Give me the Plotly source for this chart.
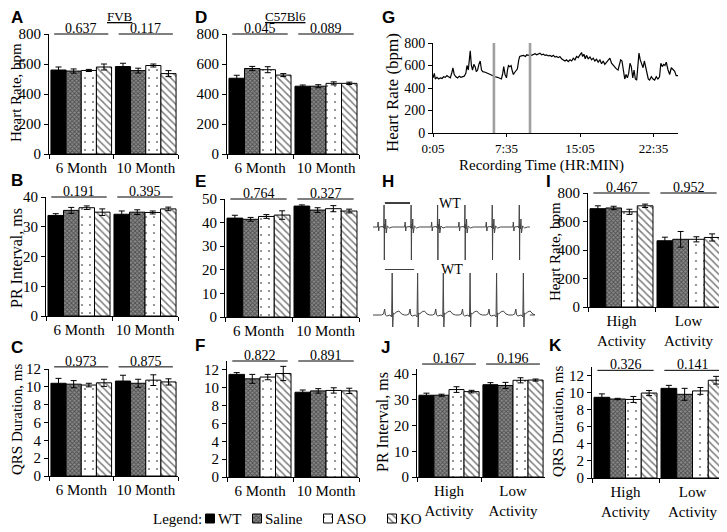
import plotly.graph_objects as go

# The page body has an 8px margin, so the figure is sized to fill the rest of the window
OFF = 8
W, H = 727 - OFF, 532 - OFF
SERIF = "Liberation Serif"
SANS = "Liberation Sans"

groups = ["WT", "Saline", "ASO", "KO"]
months = ["6 Month", "10 Month"]
activity = ["High<br>Activity", "Low<br>Activity"]

# rows = WT, Saline, ASO, KO ; columns = the two categories
A_mean = [[560, 583], [553, 556], [557, 590], [580, 536]]
A_err = [[20, 22], [14, 16], [7, 10], [20, 20]]
A_p = ["0.637", "0.117"]

B_mean = [[33.8, 34.2], [35.5, 34.9], [36.4, 34.8], [34.9, 36.0]]
B_err = [[0.6, 1.1], [1.0, 0.8], [0.6, 0.5], [1.1, 0.6]]
B_p = ["0.191", "0.395"]

C_mean = [[10.4, 10.65], [10.3, 10.4], [10.2, 10.75], [10.45, 10.55]]
C_err = [[0.55, 0.65], [0.4, 0.45], [0.2, 0.6], [0.4, 0.35]]
C_p = ["0.973", "0.875"]

D_mean = [[505, 452], [570, 452], [562, 471], [526, 471]]
D_err = [[20, 8], [14, 10], [20, 10], [10, 8]]
D_p = ["0.045", "0.089"]

E_mean = [[41.9, 47.0], [41.4, 45.3], [42.6, 45.9], [43.2, 44.9]]
E_err = [[1.2, 0.5], [0.8, 1.0], [0.8, 1.3], [1.8, 0.8]]
E_p = ["0.764", "0.327"]

F_mean = [[11.5, 9.5], [11.0, 9.65], [11.2, 9.7], [11.6, 9.65]]
F_err = [[0.2, 0.25], [0.5, 0.25], [0.3, 0.3], [0.8, 0.3]]
F_p = ["0.822", "0.891"]

I_mean = [[690, 465], [695, 475], [668, 475], [710, 488]]
I_err = [[20, 25], [12, 55], [18, 18], [12, 25]]
I_p = ["0.467", "0.952"]

J_mean = [[31.8, 35.9], [31.8, 35.6], [34.0, 37.6], [33.2, 37.7]]
J_err = [[0.8, 0.8], [0.4, 1.2], [1.1, 1.0], [0.5, 0.4]]
J_p = ["0.167", "0.196"]

K_mean = [[9.45, 10.5], [9.25, 9.8], [9.2, 10.2], [9.95, 11.45]]
K_err = [[0.4, 0.35], [0.08, 0.7], [0.35, 0.4], [0.3, 0.45]]
K_p = ["0.326", "0.141"]

# Panel G: 24h heart-rate recording (minutes, bpm)
G_time = [5, 13, 19, 29, 40, 50, 60, 70, 80, 90,
          100, 111, 121, 127, 135, 145, 156, 166, 176, 186,
          196, 206, 213, 221, 227, 233, 240, 247, 255, 263,
          270, 278, 286, 294, 302, 310, 325, 339, 355, 371,
          386, 400, 412, 424, 432, 438, 446, 455, 461, 467,
          475, 483, 489, 497, 506, 514, 522, 530, 536, 546,
          559, 571, 579, 589, 599, 609, 619, 630, 640, 650,
          660, 670, 681, 691, 701, 711, 721, 731, 742, 752,
          762, 772, 782, 792, 803, 813, 823, 833, 844, 854,
          864, 874, 884, 894, 905, 915, 921, 929, 937, 945,
          955, 966, 976, 986, 996, 1006, 1016, 1027, 1037, 1047,
          1057, 1067, 1077, 1088, 1098, 1108, 1118, 1128, 1138, 1146,
          1154, 1162, 1171, 1179, 1187, 1195, 1203, 1211, 1219, 1228,
          1236, 1244, 1252, 1260, 1266, 1274, 1282, 1291, 1299, 1307,
          1315, 1323, 1331, 1342, 1352, 1362, 1372, 1382, 1392, 1400,
          1409, 1417, 1425, 1433, 1444, 1454, 1464, 1474, 1484, 1494,
          1505]
G_hr = [490, 530, 480, 495, 480, 490, 485, 500, 495, 510,
        500, 490, 540, 578, 520, 500, 490, 505, 495, 500,
        505, 530, 600, 560, 640, 730, 600, 560, 610, 590,
        545, 560, 610, 640, 560, 545, 540, 530, 520, 510,
        500, 495, 490, 480, 530, 590, 520, 490, 560, 600,
        590, 600, 560, 520, 540, 560, 570, 650, 680, 685,
        690, 680, 695, 690, 700, 690, 700, 705, 695, 700,
        710, 695, 700, 690, 695, 685, 690, 680, 690, 675,
        680, 670, 680, 660, 650, 640, 650, 635, 650, 640,
        665, 650, 680, 670, 695, 715, 680, 700, 660, 690,
        660, 675, 650, 665, 640, 655, 630, 650, 615, 640,
        610, 630, 645, 665, 620, 600, 580, 570, 560, 610,
        650, 640, 560, 480, 520, 490, 530, 620, 590, 490,
        560, 480, 470, 600, 710, 650, 620, 580, 640, 580,
        520, 480, 470, 500, 480, 470, 500, 480, 500, 620,
        590, 610, 600, 630, 560, 520, 580, 560, 550, 510,
        510]
G_marks = [378, 599]
G_tickvals = [5, 455, 905, 1355]
G_ticktext = ["0:05", "7:35", "15:05", "22:35"]

# Panel H: ECG traces (ms), beat times and one-beat waveform templates
H_span = [11, 591]
H_top_beats = [52, 152, 250, 351, 452, 552]
H_top_dt = [-24, -22, -20, -18, -4, -2, -1, 0, 1, 2, 4, 6, 8, 12, 20, 30]
H_top_amp = [0, 5, -4, 0, 0.5, -1, 2, 22, -33, 3, -2, 8, -6, 1, -1, 0]
H_bot_beats = [82, 176, 271, 370, 468, 567]
H_bot_dt = [-40, -32, -28, -25, -20, -8, -2, 0, 2, 4, 8, 15, 25, 35, 45]
H_bot_amp = [0, 1, 6, 0, -1, 0, -2, 42, -12, 2, 1, 3, 4, 1, 0]

styles = {
    "WT": dict(color="black"),
    "Saline": dict(color="#7a7a7a",
                   pattern=dict(shape="x", fgcolor="#111111", bgcolor="#8a8a8a", size=3, solidity=0.5)),
    "ASO": dict(color="white",
                pattern=dict(shape=".", fgcolor="black", bgcolor="white", size=8, solidity=0.06)),
    "KO": dict(color="white",
               pattern=dict(shape="\\", fgcolor="black", bgcolor="white", size=5, solidity=0.3)),
}


def pxx(p):
    return (p - OFF) / W


def pxy(p):
    return 1 - (p - OFF) / H


def marker_for(g):
    st = styles[g]
    m = dict(color=st["color"], line=dict(color="black", width=1))
    if "pattern" in st:
        m["pattern"] = st["pattern"]
    return m


fig = go.Figure()
shapes = []
annotations = []
layout_axes = {}

bar_panels = [
    # n, xdom px, ydom px (top, bottom), yrange, dtick, cats, mean, err, p, pline
    (1, (49, 178), (34, 154), [0, 800], 200, months, A_mean, A_err, A_p, 1.0),
    (2, (46, 178), (197, 316), [0, 40], 10, months, B_mean, B_err, B_p, 1.0),
    (3, (49, 178), (369, 476), [0, 12], 2, months, C_mean, C_err, C_p, 1.02),
    (4, (227, 359), (34, 154), [0, 800], 200, months, D_mean, D_err, D_p, 1.0),
    (5, (225, 359), (199, 317), [0, 50], 10, months, E_mean, E_err, E_p, 1.0),
    (6, (227, 359), (361, 477), [0, 13], 2, months, F_mean, F_err, F_p, 1.0),
    (8, (588, 722), (193, 307), [0, 800], 200, activity, I_mean, I_err, I_p, 1.0),
    (9, (417, 545), (369, 477), [0, 42], 10, activity, J_mean, J_err, J_p, 1.046),
    (10, (592, 726), (367, 478), [0, 13], 2, activity, K_mean, K_err, K_p, 0.97),
]


def axname(letter, n):
    return letter if n == 1 else f"{letter}{n}"


for n, xd, yd, yr, dt, cats, mean, err, pv, pline in bar_panels:
    xa, ya = axname("x", n), axname("y", n)
    for gi, g in enumerate(groups):
        fig.add_trace(go.Bar(
            x=cats, y=mean[gi], name=g, showlegend=False,
            xaxis=xa, yaxis=ya, marker=marker_for(g),
            error_y=dict(type="data", array=err[gi], color="black", thickness=1, width=3),
        ))
    layout_axes["xaxis" if n == 1 else f"xaxis{n}"] = dict(
        domain=[pxx(xd[0]), pxx(xd[1])], anchor=ya, type="category",
        range=[-0.5, 1.5], tickson="boundaries", ticks="outside", ticklen=4,
        tickcolor="black", showline=True, linecolor="black", linewidth=1, tickangle=0,
        automargin=False, showgrid=False, zeroline=False,
        tickfont=dict(family=SERIF, size=15, color="black"))
    layout_axes["yaxis" if n == 1 else f"yaxis{n}"] = dict(
        domain=[pxy(yd[1]), pxy(yd[0])], anchor=xa, range=yr, dtick=dt,
        ticks="outside", ticklen=4, tickcolor="black", showline=True, linecolor="black",
        linewidth=1, showgrid=False, zeroline=False, automargin=False,
        tickfont=dict(family=SERIF, size=15, color="black"))
    for j in range(2):
        shapes.append(dict(type="line", xref=xa, yref=f"{ya} domain", x0=j - 0.42, x1=j + 0.42,
                           y0=pline, y1=pline, line=dict(color="black", width=1)))
        annotations.append(dict(text=pv[j], xref=xa, yref=f"{ya} domain", x=j, y=pline,
                                xanchor="center", yanchor="bottom", showarrow=False, yshift=-4,
                                font=dict(family=SERIF, size=14, color="black")))

# Panel G
fig.add_trace(go.Scatter(x=G_time, y=G_hr, mode="lines", xaxis="x7", yaxis="y7",
                         line=dict(color="black", width=1.2), showlegend=False))
layout_axes["xaxis7"] = dict(domain=[pxx(433), pxx(678)], anchor="y7", range=[5, 1505],
                             tickvals=G_tickvals, ticktext=G_ticktext, ticks="outside", ticklen=3,
                             tickcolor="black", showline=True, linecolor="black", showgrid=False,
                             zeroline=False, automargin=False, tickangle=0,
                             tickfont=dict(family=SERIF, size=13, color="black"))
layout_axes["yaxis7"] = dict(domain=[pxy(133), pxy(43)], anchor="x7", range=[0, 800], dtick=200,
                             ticks="outside", ticklen=4, tickcolor="black", showline=True,
                             linecolor="black", showgrid=False, zeroline=False, automargin=False,
                             tickfont=dict(family=SERIF, size=14, color="black"))
for m in G_marks:
    shapes.append(dict(type="rect", xref="x7", yref="y7", x0=m - 8, x1=m + 8, y0=0, y1=815,
                       fillcolor="#a0a0a0", line=dict(width=0)))


# Panel H
def ecg(beats, dts, amps, span):
    xs, ys = [span[0]], [0]
    for b in beats:
        for d, a in zip(dts, amps):
            xs.append(b + d)
            ys.append(a)
    xs.append(span[1])
    ys.append(0)
    return xs, ys


tx, ty = ecg(H_top_beats, H_top_dt, H_top_amp, H_span)
bx, by = ecg(H_bot_beats, H_bot_dt, H_bot_amp, H_span)
fig.add_trace(go.Scatter(x=tx, y=ty, mode="lines", xaxis="x11", yaxis="y11",
                         line=dict(color="#444444", width=1), showlegend=False))
fig.add_trace(go.Scatter(x=bx, y=by, mode="lines", xaxis="x12", yaxis="y12",
                         line=dict(color="#444444", width=1), showlegend=False))
for n, yd, yr in [(11, (197, 262), [-35, 30]), (12, (269, 329), [-14, 46])]:
    layout_axes[f"xaxis{n}"] = dict(domain=[pxx(370), pxx(535)], anchor=f"y{n}",
                                    range=[0, 610], visible=False, automargin=False)
    layout_axes[f"yaxis{n}"] = dict(domain=[pxy(yd[1]), pxy(yd[0])], anchor=f"x{n}",
                                    range=yr, visible=False, automargin=False)
shapes.append(dict(type="line", xref="x11", yref="y11", x0=55, x1=148, y0=24, y1=24,
                   line=dict(color="black", width=1.5)))
shapes.append(dict(type="line", xref="x12", yref="y12", x0=55, x1=163, y0=46, y1=46,
                   line=dict(color="black", width=1.5)))
annotations.append(dict(text="WT", xref="x11", yref="y11", x=296, y=24, showarrow=False,
                        xanchor="center", yanchor="middle",
                        font=dict(family=SERIF, size=14, color="black")))
annotations.append(dict(text="WT", xref="x12", yref="y12", x=303, y=46, showarrow=False,
                        xanchor="center", yanchor="middle",
                        font=dict(family=SERIF, size=14, color="black")))

# Legend row (hidden axis in page pixels)
legend_sq = {"WT": 210, "Saline": 257, "ASO": 328, "KO": 392}
layout_axes["xaxis13"] = dict(domain=[0, 1], anchor="y13", range=[OFF, OFF + W], visible=False,
                              automargin=False)
layout_axes["yaxis13"] = dict(domain=[pxy(532), pxy(505)], anchor="x13", range=[0, 27],
                              visible=False, automargin=False)
for g in groups:
    fig.add_trace(go.Bar(x=[legend_sq[g]], y=[9], base=[9], width=[9], offset=-4.5,
                         xaxis="x13", yaxis="y13", marker=marker_for(g), showlegend=False,
                         hoverinfo="skip"))
    annotations.append(dict(text=g, xref="x13", yref="y13", x=legend_sq[g] + 6, y=13.5,
                            xanchor="left", yanchor="middle", showarrow=False,
                            font=dict(family=SERIF, size=15, color="black")))
annotations.append(dict(text="Legend:", xref="x13", yref="y13", x=204, y=13.5,
                        xanchor="right", yanchor="middle", showarrow=False,
                        font=dict(family=SERIF, size=15, color="black")))

# Panel letters
for letter, x, y in [("A", 17, 17), ("B", 17, 180), ("C", 17, 347), ("D", 201, 17),
                     ("E", 200, 182), ("F", 200, 345), ("G", 388, 17), ("H", 388, 182),
                     ("I", 548, 182), ("J", 386, 347), ("K", 555, 345)]:
    annotations.append(dict(text=f"<b>{letter}</b>", xref="paper", yref="paper", x=pxx(x), y=pxy(y),
                            xanchor="center", yanchor="middle", showarrow=False,
                            font=dict(family=SANS, size=17, color="black")))

# Strain titles
for t, x in [("FVB", 120), ("C57Bl6", 285)]:
    annotations.append(dict(text=f"<span style='text-decoration:underline'>{t}</span>",
                            xref="paper", yref="paper", x=pxx(x), y=pxy(16), showarrow=False,
                            xanchor="center", yanchor="middle",
                            font=dict(family=SERIF, size=13, color="black")))

# Y-axis titles
for t, x, y, s in [("Heart Rate, bpm", 16, 93, 15), ("PR Interval, ms", 16, 258, 16),
                   ("QRS Duration, ms", 17, 420, 15), ("Heart Rate (bpm)", 392, 93, 17),
                   ("Heart Rate, bpm", 555, 252, 15), ("PR Interval, ms", 382, 422, 16),
                   ("QRS Duration, ms", 558, 422, 15)]:
    annotations.append(dict(text=t, xref="paper", yref="paper", x=pxx(x), y=pxy(y),
                            textangle=-90, showarrow=False, xanchor="center", yanchor="middle",
                            font=dict(family=SERIF, size=s, color="black")))

annotations.append(dict(text="Recording Time (HR:MIN)", xref="paper", yref="paper",
                        x=pxx(541), y=pxy(165), showarrow=False, xanchor="center", yanchor="middle",
                        font=dict(family=SERIF, size=15, color="black")))

fig.update_layout(
    width=W, height=H, margin=dict(l=0, r=0, t=0, b=0, autoexpand=False),
    paper_bgcolor="white", plot_bgcolor="white",
    font=dict(family=SERIF, color="black"),
    barmode="group", bargap=0.06, bargroupgap=0, showlegend=False,
    shapes=shapes, annotations=annotations,
    **layout_axes,
)

fig.write_html("out.html")
